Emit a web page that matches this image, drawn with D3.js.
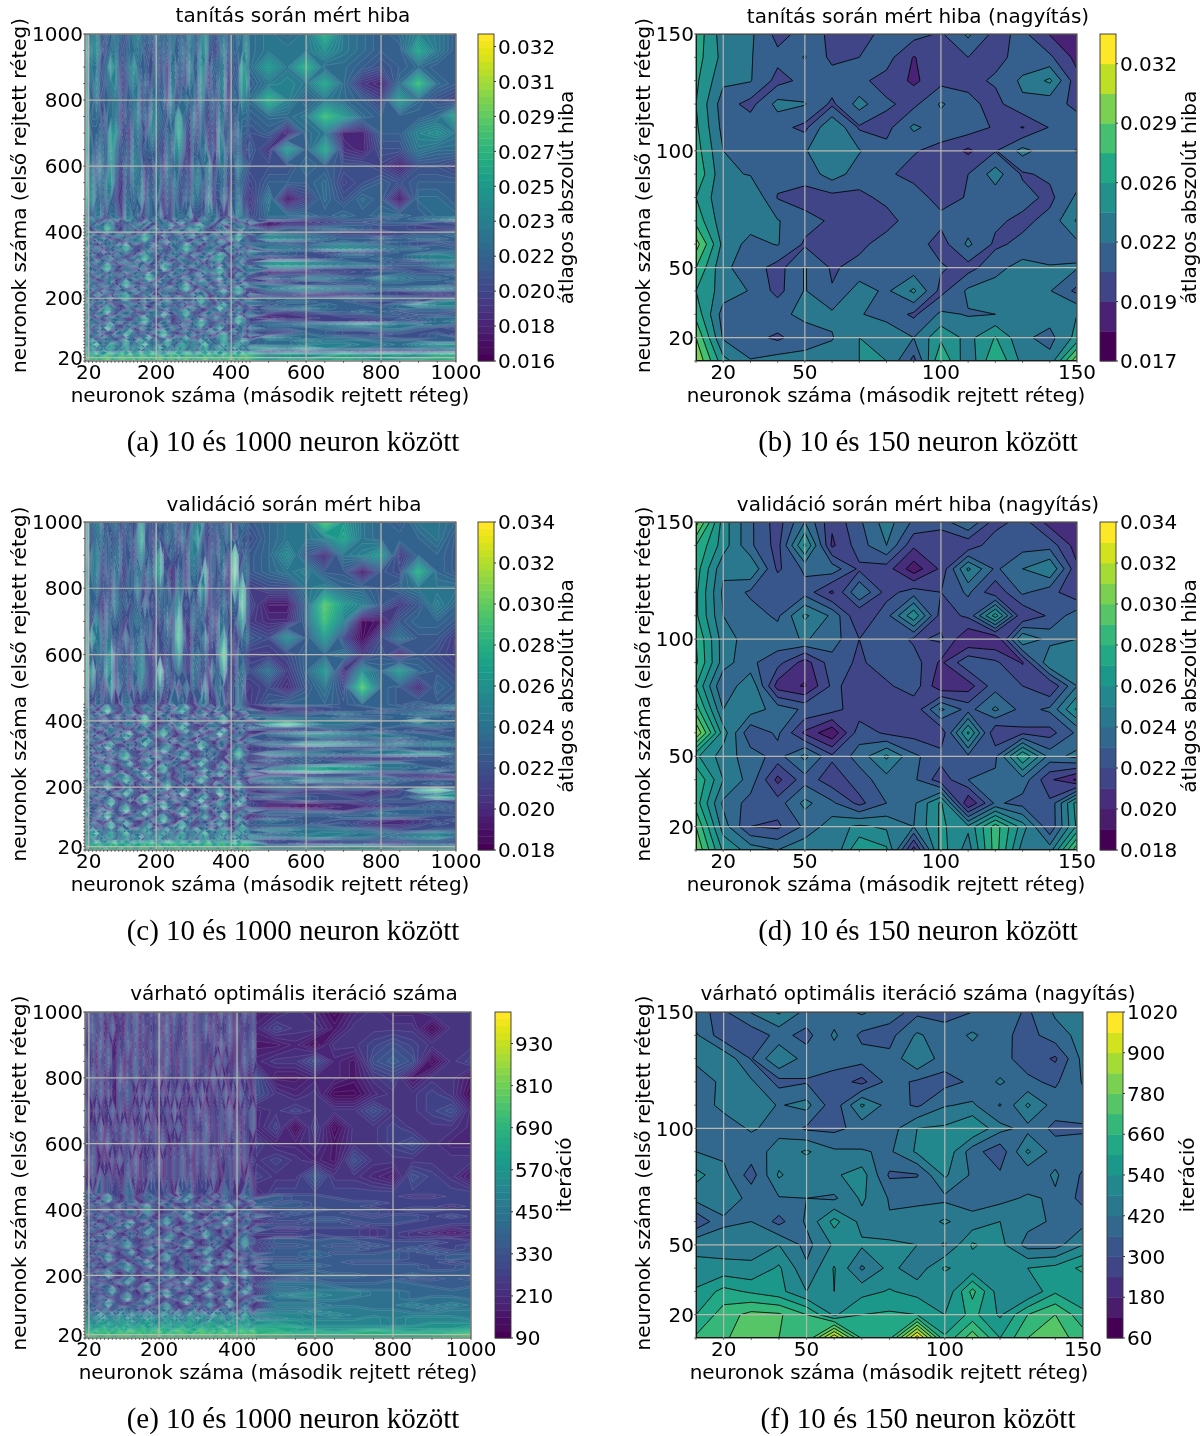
<!DOCTYPE html>
<html><head><meta charset="utf-8">
<script src="https://cdn.jsdelivr.net/npm/d3@7"></script>
<style>html,body{margin:0;padding:0;background:#fff}svg{display:block}</style>
</head><body><svg id="chart" width="1204" height="1436"></svg>
<script>
// ---------- neuron counts ----------
const narrowNeurons = [10,20,30,40,50,60,70,80,90,100,110,120,130,140,150];
const wideNeurons = [10,20,30,40,50,60,70,80,90,100,110,120,130,140,150,160,170,180,190,200,210,220,230,240,250,260,270,280,290,300,310,320,330,340,350,360,370,380,390,400,410,420,430,440,450,500,550,600,650,700,750,800,850,900,950,1000];
const wideTicks = [20,200,400,600,800,1000];
const narrowTicks = [20,50,100,150];

// ---------- zoomed panels, rows from first layer = 150 down to 10 ----------
const trainNarrow = [ // x 1e-4
[265,232,228,205,215,208,205,214,216,208,228,205,214,194,188],
[262,235,226,214,226,206,210,216,194,207,210,206,215,213,190],
[258,228,226,205,214,218,213,205,192,205,206,212,228,243,200],
[255,217,205,230,226,207,231,212,206,227,214,205,222,215,207],
[258,220,219,215,206,240,208,205,228,217,218,208,194,211,216],
[262,225,222,222,224,235,226,215,211,206,192,209,230,216,226],
[268,228,224,215,216,232,218,212,206,205,210,232,208,213,217],
[255,228,240,209,204,205,206,214,216,205,211,217,216,206,228],
[265,230,232,226,215,208,206,204,218,214,217,213,206,215,242],
[292,235,220,226,208,204,206,217,218,203,228,207,214,217,221],
[270,228,218,204,226,208,215,215,216,212,204,220,231,226,226],
[255,233,224,205,226,211,232,222,243,205,228,232,232,226,206],
[265,218,222,222,228,228,226,220,207,228,224,225,235,232,240],
[285,223,215,207,219,224,240,235,225,252,235,256,228,220,245],
[300,245,226,232,230,232,240,240,205,270,228,270,235,230,298]];
const validNarrow = [ // x 1e-4
[305,255,232,215,240,212,228,245,228,225,240,215,225,205,205],
[280,255,232,216,262,208,225,240,212,210,212,228,226,226,205],
[275,242,250,218,232,236,218,215,194,212,252,228,240,250,212],
[272,238,228,230,226,208,240,216,225,220,232,212,232,224,212],
[272,240,235,228,252,238,210,226,258,215,222,265,210,222,236],
[280,245,235,236,241,235,220,228,218,222,200,200,250,236,240],
[282,245,232,224,205,226,218,226,225,208,228,222,209,250,240],
[270,230,250,205,199,222,216,218,226,202,205,226,220,210,240],
[285,240,245,236,228,224,214,214,212,242,226,242,226,232,262],
[310,255,222,232,208,192,226,218,216,212,262,210,218,216,232],
[262,245,235,226,243,222,234,252,232,224,228,228,270,236,243],
[280,250,236,207,226,214,225,236,232,214,230,232,236,212,198],
[275,238,226,225,243,232,217,230,238,262,200,232,226,222,265],
[290,245,220,218,232,246,252,248,240,262,252,285,255,222,262],
[300,258,246,240,248,240,270,262,205,265,245,285,245,245,298]];
const iterNarrow = [
[370,350,425,490,400,390,430,380,345,340,360,395,350,430,440],
[430,320,320,380,340,430,345,340,430,385,430,380,335,395,440],
[440,470,355,480,390,385,385,375,480,385,390,375,340,290,440],
[370,440,430,340,355,335,280,385,350,340,370,430,370,350,425],
[400,430,460,415,440,320,490,390,350,415,430,355,490,390,400],
[410,400,425,405,350,345,380,390,480,490,540,440,400,345,350],
[420,405,395,440,490,430,425,410,490,530,385,320,490,390,395],
[500,440,330,490,425,470,510,350,355,490,410,370,375,430,350],
[440,450,405,415,420,410,490,415,410,405,395,400,430,410,340],
[310,410,420,340,430,560,460,425,440,490,440,480,440,410,400],
[470,450,460,480,400,490,490,495,480,410,550,500,395,395,480],
[490,500,490,550,430,545,410,500,440,550,500,490,540,560,615],
[550,620,590,560,480,540,520,545,520,480,680,500,480,590,540],
[600,690,740,730,660,530,600,610,600,540,620,530,660,720,620],
[670,710,760,720,660,960,650,640,1000,610,760,600,720,750,690]];

// ---------- full-range panels: one character per cell (0-9a-g = estimated level),
// rows first layer 1000 down to 10; left blocks second layer 10..450, last block 500..1000 ----------
const trainWide = [
"c6785 46576 54678 65647 56576 46586 57965 46756 57686 767c7656875",
"d5896 35675 45667 64536 46475 57476 48954 35846 56696 77797655b75",
"c6774 56a85 35796 55446 35267 46385 69736 56735 45a86 a7c66545655",
"b5685 46785 24687 46356 45276 35376 49625 47824 56a95 787b6216d65",
"d6574 55676 35567 35476 56285 46756 38546 36725 65876 c857653a643",
"c5665 36675 25468 46387 65476 a6547 26435 37635 46665 667da65556b",
"d7556 46a96 34267 53686 54657 b7436 36524 28546 37554 51671155897",
"c6647 56a75 45376 45565 43648 96325 46735 28736 46435 2a5b2144766",
"e5738 46964 36487 63436 52756 63426 75683 46745 58654 44654431443",
"e6847 58953 25476 72546 63647 54536 86473 55634 46543 55563454555",
"d7956 47542 36565 83657 42536 43647 65382 44725 57432 70364650665",
"a4577 35664 27756 34655 72436 66583 44576 63327 58653 66656566566",
"c6855 24476 38865 42567 63347 55762 36856 74453 26764 55445545678",
"b5643 67832 45564 27745 66532 78543 25766 34875 53427 12234455543",
"93576 6a744 25377 66342 57785 32466 8a653 47325 66743 13345544344",
"c4467 7c853 36645 52378 46623 56697 a7433 56724 47856 35566544333",
"a7325 68643 47752 34666 52457 86342 67544 23877 53366 55443324445",
"b6754 23567 73346 6a853 37645 42678 53347 76524 6a743 87654434556",
"c3466 75234 56677 8c754 42356 67533 45866 43268 7b653 98765565665",
"95627 46653 32476 57532 66847 45326 76354 58723 45664 54456545445",
"b7433 65748 6a542 35677 43266 57a75 42367 65433 78546 66578765454",
"d4676 23567 8b743 46523 75436 68c86 34566 32477 54623 77689876655",
"a6352 74634 67543 27866 54357 46754 23678 54436 62758 45434345566",
"c5744 35267 54326 7a653 36476 53347 66524 7a843 45536 55446655787",
"96523 67745 33567 8c864 25643 77532 46738 9b653 37764 23345565788",
"b4676 54326 67452 56743 67325 46654 73246 67534 56243 89876554466",
"c7345 7a653 24776 53346 4a865 32567 64537 32566 47753 9a987765578",
"a5564 8c743 56432 77534 5b754 67423 56745 6a643 23667 56544434455",
"b3746 56524 37665 43267 54326 75634 23867 8b742 54367 12233455444",
"95467 33756 62347 66a75 43576 52346 77543 56623 48654 34454456556",
"c6324 57643 45576 37c85 26643 47765 32456 7a653 36743 65776587665",
"a7653 36724 6a543 56632 75436 55327 68854 32476 65234 23445566556",
"b4536 67543 7b764 23467 56324 67a53 46623 57754 34786 65454455554",
"c5764 23467 54325 67543 34776 58c74 23567 43326 7a643 78987766787",
"96342 76534 56677 34652 66453 45632 76345 57a64 8b732 55654543444",
"b5477 43267 8a643 56723 37654 23467 56732 46643 56436 33222343323",
"a6533 56745 9b754 32676 54236 76543 8a624 75336 76523 65556665545",
"c3746 73245 56432 67543 27865 43657 6b753 26457 43667 56655444378",
"b7456 46623 37765 42346 76534 56223 47654 37a64 52346 45565546988",
"a4632 7a754 23546 67325 46756 43677 53246 6c865 47532 66765556666",
"c6547 8b643 56732 44667 53246 67a53 42367 56632 67445 43455654554",
"94367 53326 76545 23767 6a743 57b64 35764 23457 53267 22334455445",
"b7524 46765 43236 7a654 34532 46765 52346 76543 6a743 12233344566",
"c4656 32567 64357 8b743 46723 54326 7a754 34265 7c853 54433235467",
"a6743 67a43 25766 34562 76534 27665 8b643 57632 46754 66778987765",
"b5367 5c754 36524 77543 24676 53246 66524 7a543 36627 55566677543",
"c7452 64326 67a53 24567 7a643 46753 32478 63426 75634 43554455444",
"a4667 23476 5b764 56324 8c754 23567 46643 27a65 34726 35654434453",
"b6534 76543 34652 67a53 45327 66a43 25736 58b74 56432 87666554455",
"c7a56 47645 7a658 a6567 56a76 47867 5a675 67a65 47a85 66877766655",
"a68c6 76a87 5a675 8c767 47a65 7a868 67c76 56a86 7a675 66788776899",
"d7a68 59a76 8a697 a5869 a7685 9a768 59a67 8a596 a7859 98a87766778",
"c6847 96758 69578 47968 57486 97586 47968 59768 49576 34344323344",
"eabca 9cdab cad9b cabdc a9bdc abcd9 bcadb c9dab cadbc 8a99b9aa9bc",
"fcdbc decbd ecdbc edcbd ecbdc ebdcb dcebd cbdce cbded 9a9bbaa9acb",
"fdcec dfcdb ecdfc dbecd fcdec bdfce cdfbc decdf cedbc acbbcbabccd"];
const validWide = [
"c5678 45675 46545 a6545 65657 46547 89546 56475 46765 677ea765776",
"d6567 56456 35647 b5536 45756 37468 a6435 36576 36554 6778b766675",
"c4786 46567 45536 96547 a3465 45378 75536 47646 d5465 695278a3665",
"b5785 36476 34657 64759 b5423 65267 64a36 45725 e4675 67855154c65",
"d6675 45375 45658 53646 75634 76375 5a825 46535 b7c53 44786656777",
"c5654 26486 56456 47354 65657 94546 47625 35746 65d64 116ea853586",
"d4586 37565 43567 65643 54736 c5347 56436 27654 47a53 226d8015665",
"c5a77 47645 37465 74635 45647 d7325 46825 37a45 34675 495a4047553",
"e6567 58a36 45376 85426 43547 a5436 75634 48e65 26543 34667352543",
"e7a46 5a836 56467 96435 c3645 75347 64527 56a34 36754 736a296a654",
"d5745 26937 45264 75346 84536 25746 53824 67435 47623 42574e65265",
"b4366 45532 67743 34565 32476 66432 57743 36625 47543 56665665656",
"c5743 7a654 36524 57743 46632 78a53 25466 37543 68643 33445566578",
"a6524 8d753 47632 46765 23567 8b743 56324 77543 35766 24345545654",
"93467 65432 56773 25346 76524 55632 67854 23467 54326 45567666775",
"c6753 24567 63426 7c653 36724 46757 34265 67a54 23567 66665556565",
"a4536 77432 56743 8e854 25677 53246 66523 58c74 46532 88777766a66",
"b7654 34265 47762 6a743 34526 77a53 24367 65432 67754 ad977666776",
"c3267 56743 25536 67324 56763 8c654 32567 74326 54367 55566565565",
"96543 27766 53246 76534 6a742 57a53 47623 56a53 26743 33445545445",
"b5724 45632 78a54 32567 8c653 24566 73245 7c754 46532 67998776655",
"d3467 63467 6a643 47653 56732 46753 24667 53426 67345 55676677665",
"a6754 23576 54326 77a53 32467 56432 76543 26754 43267 45554554566",
"c4532 67a43 26654 5c764 45723 37765 4a853 36632 57654 77aa9878787",
"96367 5b754 34726 67543 57a64 23456 6c754 47523 67423 43344445565",
"b5746 43265 76543 24367 6b753 66524 34667 53246 7a653 45566677565",
"c7323 56674 8a543 56732 34265 77a43 25736 64325 8d864 88776778996",
"a4667 73246 9c754 33567 76542 6a754 34567 43267 6a543 34543433445",
"b6543 26754 56432 67a64 25336 54326 67a53 54326 47634 65654344556",
"95276 54323 67a53 46753 37766 43257 6c754 36724 56653 34556677555",
"c4657 7a643 45632 56724 8b643 56532 46643 27a65 33476 579aa977656",
"a7324 8c754 23567 43326 7a543 67423 57a64 46532 76543 89bb9866675",
"b5463 65326 74356 7b653 45732 46766 23467 6a743 24567 22344433445",
"c6745 33567 8a643 67a53 36524 57543 67a53 34265 76432 66555664322",
"96523 46754 7c853 43267 56743 26654 8c754 23567 53426 87988776555",
"b4376 7a532 56724 66543 27a65 34726 56432 76345 7a643 45444345565",
"a7654 5c743 26543 37765 48d64 56332 46753 56632 8b754 67576655545",
"c3426 65324 67a53 52346 76524 67a53 34265 7a543 45632 45334423ad7",
"b6753 24567 7c754 23567 43267 5c754 26743 5c764 27654 33443334579",
"a4567 66432 56543 7a643 56732 43246 67a53 43267 34725 655443447b9",
"c7324 57a53 34726 8c754 23467 66534 7c653 27665 56a43 34544455545",
"94656 47c64 56332 64326 7a653 24567 54326 6a743 7c754 22122344454",
"b6543 26654 7a543 45767 5c754 36543 27a65 47532 65324 11012234565",
"c3567 73245 8c653 56a43 34265 78a53 45632 76345 23567 44332456654",
"a7432 6a754 53246 7c754 46532 6c754 26743 56a53 46753 66665576655",
"b5667 7c653 24567 66324 7a543 43267 57a64 24c74 67432 44556665544",
"c6324 53467 76543 24567 8c753 25673 46532 67543 5a624 76554432345",
"a4763 26a54 5b743 36724 65432 7a654 34567 6a743 27665 66545322354",
"b7536 47c63 66324 57a53 24567 8c743 56732 45623 57a54 55665433444",
"c6a57 46757 a6768 7a658 67a57 46857 a6678 58a76 47a86 88777654455",
"a79c7 68a76 8c767 58a76 8a685 7a768 68c76 68a75 8a686 56788776787",
"c7a68 59a76 8a697 a5869 a7685 9a768 59a67 8a596 a7859 77887767896",
"b6847 96758 69578 47968 57486 97586 47968 59768 49576 34545555665",
"d9acb 8abda ba9cb abcda 9bcda bca9b cabda 9cbab dabcb 44334433554",
"eacbd abdca bcdab cdabc dacbd cabdb cacdb acdbc abdca 77889987888",
"ecbdc decbd ecdbc edcbd ecbdc ebdcb dcebd cbdce cbded 99a98a9aaab"];
const iterWide = [
"62536 25314 25261 43526 25163 52615 35241 62514 36251 23202322333",
"52635 13623 15362 52435 16253 41625 36152 43615 24352 43313333033",
"43526 25214 36251 42536 25143 52615 24351 62514 25361 12033454333",
"63415 36235 14263 51435 26241 53625 24136 25314 26352 33521565034",
"53625 14326 15362 43526 15342 53614 35262 51436 24135 11221341331",
"42536 25125 36415 26342 51536 24153 61425 36152 63415 32300233430",
"63152 43625 14253 61524 35261 42536 15243 52614 25362 34333533452",
"52436 14253 62514 36251 42536 31524 36142 53625 14362 40403343332",
"43525 16342 53615 24352 63142 53615 26342 51436 25314 22313345322",
"52631 41526 35261 43526 14253 62415 36251 43526 15243 43215333333",
"31526 35241 36251 42635 14253 62514 35263 14526 31524 33633215431",
"47366 35443 57632 36554 45327 56634 44632 57533 36642 44444444444",
"56743 7a543 36524 57743 46632 67a53 25466 37543 68643 65544443344",
"36524 8b653 47632 46765 33567 7a643 56324 67543 35766 65554444444",
"63467 65432 56773 35346 76534 55632 67754 33467 54326 56555544444",
"46753 34567 63436 7b653 36724 46757 34365 67a54 33567 66555444434",
"54536 77432 56743 8b754 35677 53346 66523 58b74 46532 55655545544",
"37654 34365 47762 6a743 34536 77a53 34367 65432 67754 56554544444",
"63367 56743 35536 67324 56763 7b654 32567 74336 54367 45555455454",
"56543 37766 53346 76534 6a742 57a53 47633 56a53 36743 55665555444",
"45724 45632 68a54 32567 7b653 34566 73345 7b754 46532 44554554444",
"73467 63467 6a643 47653 56732 46753 34667 53436 67345 55555444433",
"46754 33576 54336 67a53 32467 56432 76543 36754 43367 33444344323",
"64532 67a43 36654 5b764 45733 37765 4a753 36632 57654 44444343212",
"56367 5a754 34736 67543 57a64 33456 6b754 47533 67433 33544343323",
"75746 43365 76543 34367 6a753 66534 34667 53346 7a653 66565544443",
"67343 56674 7a543 56732 34365 67a43 35736 64335 7b764 66666555544",
"54667 73346 8b754 33567 76542 6a754 34567 43367 6a543 55655655445",
"76543 36754 56433 67a64 35336 54336 67a53 54336 47634 66666556545",
"65376 54333 67a53 46753 37766 43357 6b754 36734 56653 66755565655",
"74657 7a643 45633 56734 7b643 56533 46643 37a65 33476 66766665566",
"57334 7b754 33567 43336 7a543 67433 57a64 46533 76543 55666665565",
"75463 65336 74356 7a653 45733 46766 33467 6a743 34567 66665555545",
"66745 43567 8a643 67a53 36534 57543 67a53 34365 76433 77766666556",
"86533 46754 7b853 43367 56743 36654 7b754 33567 53436 66666666556",
"64376 7a533 56734 66543 37a65 34736 56433 76345 7a643 66766666666",
"87654 5b743 36543 37765 47a64 56333 46753 56633 7b754 67777667666",
"63436 65334 67a53 53346 76534 67a53 34365 7a543 45633 55666665565",
"86753 34567 7b754 33567 43367 5b754 36743 5b764 37654 77766676666",
"74567 66433 56543 7a643 56733 43346 67a53 43367 34735 88877777666",
"97334 67a53 44736 8b754 33467 66534 7b653 37665 56a43 77887777767",
"74656 57b64 56433 64336 7a653 34567 54336 6a743 7b754 88999887777",
"86543 46654 7a543 55767 5b754 46543 37a65 47533 65334 9aa99887777",
"97567 73345 8b653 56a43 34365 78a53 45633 76345 33567 88998887887",
"77444 6a754 53346 7b754 46533 6b754 36743 56a53 46753 88888888888",
"86667 7b653 34567 66334 7a543 43367 57a64 34b74 67433 99988889898",
"96734 64567 76653 34667 8b753 35673 46633 67543 5a634 88899888988",
"79586 97485 96857 49375 86948 57694 83759 68574 96837 99a99998899",
"a978c 68a7b 96c8a 7b968 ca79b 68ca7 b96c8 a79b6 8c97a aa9a9999999",
"8a9b8 c9a7b 9c8a9 b7c9a 8b9c7 a9b8c 9a7b9 c8a9b 7c9a8 9a999a9aaa9",
"aba9c babac bac9a bcbaa 9cbab 9acba a9cba ba9cb acbab bbaaaa9aaaa",
"bcabc bdcab cdbac bcdab cbdac bcdba cbdca bcdba cbdab cbaaaa9abbb",
"cdbcd ecbdc ebdcd ecbdc edbcd ebcdc ebdcd ebcdc edbcd ddbbbbbbbbc",
"eedfe fdeef dfgee fdefg edefg feedf geefd fgeed gfege ecdcdedcdde",
"ffgef fgefg fgefg fegfg efgef gfegf gfgef gefgf egfge feeeeeeeefg"];

// ---------- colour bars ----------
const trainWideLabels = ["0.016","0.018","0.020","0.022","0.023","0.025","0.027","0.029","0.031","0.032"];
const trainNarrowLabels = ["0.017","0.019","0.022","0.026","0.029","0.032"];
const validLabels = ["0.018","0.020","0.022","0.024","0.026","0.028","0.030","0.032","0.034"];
const iterWideLabels = ["90","210","330","450","570","690","810","930"];
const iterNarrowLabels = ["60","180","300","420","540","660","780","900","1020"];

const titles = ["tanítás során mért hiba","tanítás során mért hiba (nagyítás)","validáció során mért hiba","validáció során mért hiba (nagyítás)","várható optimális iteráció száma","várható optimális iteráció száma (nagyítás)"];
const captions = ["(a) 10 és 1000 neuron között","(b) 10 és 150 neuron között","(c) 10 és 1000 neuron között","(d) 10 és 150 neuron között","(e) 10 és 1000 neuron között","(f) 10 és 150 neuron között"];

const ERR = "átlagos abszolút hiba", ITER = "iteráció";
const xLabel = "neuronok száma (második rejtett réteg)", yLabel = "neuronok száma (első rejtett réteg)";

function decode(rows, base, unit){
  const chars = "0123456789abcdefg";
  const out = rows.map(r => {
    const parts = r.trim().split(/\s+/);
    const right = parts.pop();
    const left = parts.join("");
    const l = left.padEnd(45, left[left.length-1]).slice(0,45);
    const rr = right.padEnd(11, right[right.length-1]).slice(0,11);
    return Array.from(l+rr, c => base + chars.indexOf(c)*unit);
  });
  while(out.length<56) out.push(out[out.length-1].slice());
  return out.slice(0,56);
}

const panels = [
 {rows:decode(trainWide,.0170,.0008), xs:wideNeurons, ticks:wideTicks, px:[85,456], py:[34,361], cb:[478,494], lo:.016, hi:.03266, n:47, tick0:.016, tickStep:.00178, labels:trainWideLabels, cbLabel:ERR, lines:false, tx:293, tyOff:-19, lx:270, cbx:566, ylx:19},
 {rows:trainNarrow.map(r=>r.map(v=>v*1e-4)), xs:narrowNeurons, ticks:narrowTicks, px:[696,1077], py:[34,361], cb:[1100,1116], lo:.0165, hi:.033, n:11, tick0:.0165, tickStep:.003, labels:trainNarrowLabels, cbLabel:ERR, lines:true, tx:918, tyOff:-18, lx:886, cbx:1189, ylx:643},
 {rows:decode(validWide,.0185,.0008), xs:wideNeurons, ticks:wideTicks, px:[85,456], py:[522,850], cb:[478,494], lo:.018, hi:.034, n:48, tick0:.018, tickStep:.002, labels:validLabels, cbLabel:ERR, lines:false, tx:294, tyOff:-18, lx:270, cbx:566, ylx:19},
 {rows:validNarrow.map(r=>r.map(v=>v*1e-4)), xs:narrowNeurons, ticks:narrowTicks, px:[696,1077], py:[522,850], cb:[1100,1116], lo:.018, hi:.034, n:16, tick0:.018, tickStep:.002, labels:validLabels, cbLabel:ERR, lines:true, tx:918, tyOff:-18, lx:886, cbx:1189, ylx:643},
 {rows:decode(iterWide,120,40), xs:wideNeurons, ticks:wideTicks, px:[85,471], py:[1012,1338], cb:[495,511], lo:90, hi:1020, n:47, tick0:90, tickStep:120, labels:iterWideLabels, cbLabel:ITER, lines:false, tx:294, tyOff:-19, lx:278, cbx:564, ylx:19},
 {rows:iterNarrow, xs:narrowNeurons, ticks:narrowTicks, px:[696,1083], py:[1012,1338], cb:[1107,1123], lo:60, hi:1020, n:16, tick0:60, tickStep:120, labels:iterNarrowLabels, cbLabel:ITER, lines:true, tx:918, tyOff:-19, lx:889, cbx:1187, ylx:643}
];

const svg = d3.select("#chart");
svg.append("rect").attr("width",1204).attr("height",1436).attr("fill","#fff");
const defs = svg.append("defs");
defs.append("filter").attr("id","soft").attr("x","-2%").attr("y","-2%").attr("width","104%").attr("height","104%")
  .append("feGaussianBlur").attr("stdDeviation",0.4);
const root = svg.append("g").attr("filter","url(#soft)");
const SANS = "'DejaVu Sans',sans-serif";
const TICKFS = 20, LABELFS = 20;

panels.forEach((p,i) => {
  const g = root.append("g");
  const N = p.xs.length;
  const x = d3.scaleLinear().domain(d3.extent(p.xs)).range(p.px);
  const y = d3.scaleLinear().domain(d3.extent(p.xs)).range([p.py[1],p.py[0]]);
  const idx = d3.scaleLinear().domain(d3.range(N)).range(p.xs).clamp(true);
  const flat = [];
  for(let r=p.rows.length-1;r>=0;r--) flat.push(...p.rows[r]);
  const color = k => d3.interpolateViridis(k/(p.n-1));
  const step = (p.hi-p.lo)/p.n;
  const thresholds = d3.range(1,p.n).map(k => p.lo+k*step);
  const contours = d3.contours().size([N,N]).smooth(true).thresholds(thresholds)(flat);
  const path = d3.geoPath(d3.geoTransform({point(a,b){this.stream.point(x(idx(a-0.5)), y(idx(b-0.5)));}}));
  const clipId = "clip"+i;
  defs.append("clipPath").attr("id",clipId).append("rect")
    .attr("x",p.px[0]).attr("y",p.py[0]).attr("width",p.px[1]-p.px[0]).attr("height",p.py[1]-p.py[0]);
  const plot = g.append("g").attr("clip-path",`url(#${clipId})`);
  plot.append("rect").attr("x",p.px[0]).attr("y",p.py[0]).attr("width",p.px[1]-p.px[0]).attr("height",p.py[1]-p.py[0]).attr("fill",color(0));
  plot.selectAll("path.band").data(contours).join("path").attr("class","band")
    .attr("d",path).attr("fill",(d,k)=>color(k+1)).attr("stroke",(d,k)=>color(k+1)).attr("stroke-width",0.3);
  plot.selectAll("path.line").data(contours).join("path").attr("class","line")
    .attr("d",path).attr("fill","none")
    .attr("stroke",p.lines?"#000":"rgba(255,255,255,.24)").attr("stroke-width",p.lines?0.85:0.5);
  p.ticks.forEach(t=>{
    plot.append("line").attr("x1",x(t)).attr("x2",x(t)).attr("y1",p.py[0]).attr("y2",p.py[1]).attr("stroke","#b8b8b0").attr("stroke-width",1.2);
    plot.append("line").attr("y1",y(t)).attr("y2",y(t)).attr("x1",p.px[0]).attr("x2",p.px[1]).attr("stroke","#b8b8b0").attr("stroke-width",1.2);
  });
  p.xs.forEach(v=>{
    g.append("line").attr("x1",x(v)).attr("x2",x(v)).attr("y1",p.py[1]).attr("y2",p.py[1]+2).attr("stroke","#444").attr("stroke-width",.7);
    g.append("line").attr("y1",y(v)).attr("y2",y(v)).attr("x1",p.px[0]).attr("x2",p.px[0]-2).attr("stroke","#444").attr("stroke-width",.7);
  });
  g.append("rect").attr("x",p.px[0]).attr("y",p.py[0]).attr("width",p.px[1]-p.px[0]).attr("height",p.py[1]-p.py[0])
    .attr("fill","none").attr("stroke","#333").attr("stroke-width",1);
  p.ticks.forEach(t=>{
    g.append("text").attr("x",x(t)).attr("y",p.py[1]+11).attr("dy",".36em").attr("text-anchor","middle")
      .attr("font-family",SANS).attr("font-size",TICKFS).text(t);
    g.append("text").attr("x",p.px[0]-2).attr("y",y(t)).attr("dy",".36em").attr("text-anchor","end")
      .attr("font-family",SANS).attr("font-size",TICKFS).text(t);
  });
  g.append("text").attr("x",p.tx).attr("y",p.py[0]+p.tyOff).attr("dy",".36em").attr("text-anchor","middle")
    .attr("font-family",SANS).attr("font-size",LABELFS).text(titles[i]);
  g.append("text").attr("x",p.lx).attr("y",p.py[1]+34).attr("dy",".36em").attr("text-anchor","middle")
    .attr("font-family",SANS).attr("font-size",LABELFS).text(xLabel);
  g.append("text").attr("transform",`translate(${p.ylx},${(p.py[0]+p.py[1])/2-2}) rotate(-90)`).attr("dy",".36em").attr("text-anchor","middle")
    .attr("font-family",SANS).attr("font-size",LABELFS).text(yLabel);
  root.append("text").attr("x",i%2?918:293).attr("y",p.py[1]+79.5).attr("dy",".36em").attr("text-anchor","middle")
    .attr("font-family","'Liberation Serif',serif").attr("font-size",29).text(captions[i]);
  const cy = d3.scaleLinear().domain([p.lo,p.hi]).range([p.py[1],p.py[0]]);
  d3.range(p.n).forEach(k=>{
    g.append("rect").attr("x",p.cb[0]).attr("width",p.cb[1]-p.cb[0])
      .attr("y",cy(p.lo+(k+1)*step)).attr("height",cy(p.lo+k*step)-cy(p.lo+(k+1)*step)+0.4).attr("fill",color(k));
  });
  g.append("rect").attr("x",p.cb[0]).attr("y",p.py[0]).attr("width",p.cb[1]-p.cb[0]).attr("height",p.py[1]-p.py[0]).attr("fill","none").attr("stroke","#333").attr("stroke-width",.9);
  p.labels.forEach((lab,k)=>{
    const yy = cy(p.tick0+k*p.tickStep);
    g.append("line").attr("x1",p.cb[1]).attr("x2",p.cb[1]+2).attr("y1",yy).attr("y2",yy).attr("stroke","#333");
    g.append("text").attr("x",p.cb[1]+4).attr("y",yy).attr("dy",".36em").attr("font-family",SANS).attr("font-size",TICKFS).text(lab);
  });
  g.append("text").attr("transform",`translate(${p.cbx},${(p.py[0]+p.py[1])/2}) rotate(-90)`).attr("dy",".36em").attr("text-anchor","middle")
    .attr("font-family",SANS).attr("font-size",LABELFS).text(p.cbLabel);
});
</script></body></html>
